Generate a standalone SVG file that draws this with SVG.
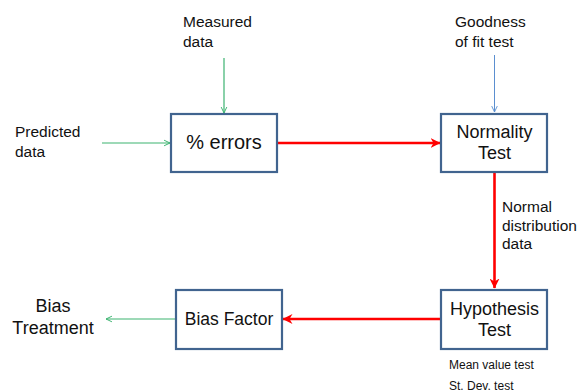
<svg xmlns="http://www.w3.org/2000/svg" width="587" height="392" viewBox="0 0 587 392">
<defs>
<style>
.box{fill:#fff;stroke:#41648F;stroke-width:2.2}
.t{font-family:"Liberation Sans",Arial,sans-serif;fill:#111}
.s{font-size:15.5px}
.m{font-size:18px}
.red{stroke:#FF0000;stroke-width:2.6;fill:none}
.grn{stroke:#3CB371;stroke-width:1.2;fill:none}
.blu{stroke:#5B8FD0;stroke-width:1;fill:none}
</style>
<marker id="ar" viewBox="0 0 10 10" refX="9.5" refY="5" markerWidth="10" markerHeight="10" markerUnits="userSpaceOnUse" orient="auto">
<path d="M0,0 L10,5 L0,10 L3,5 Z" fill="#FF0000"/>
</marker>
<marker id="ag" viewBox="0 0 10 10" refX="9.5" refY="5" markerWidth="7" markerHeight="8" markerUnits="userSpaceOnUse" orient="auto">
<path d="M1,1 L9.5,5 L1,9" fill="none" stroke="#3CB371" stroke-width="1.4"/>
</marker>
<marker id="ab" viewBox="0 0 10 10" refX="9.5" refY="5" markerWidth="7" markerHeight="8" markerUnits="userSpaceOnUse" orient="auto">
<path d="M1,1 L9.5,5 L1,9" fill="none" stroke="#5B8FD0" stroke-width="1.3"/>
</marker>
</defs>
<rect width="587" height="392" fill="#fff"/>
<g id="connectors">
<line class="grn" x1="102" y1="143" x2="170" y2="143" marker-end="url(#ag)"/>
<line class="grn" x1="224" y1="58" x2="224" y2="113" marker-end="url(#ag)"/>
<line class="blu" x1="494.5" y1="55" x2="494.5" y2="112" marker-end="url(#ab)"/>
<line class="red" x1="277" y1="143" x2="440" y2="143" marker-end="url(#ar)"/>
<line class="red" x1="494.5" y1="173" x2="494.5" y2="288" marker-end="url(#ar)"/>
<line class="red" x1="441" y1="319" x2="283" y2="319" marker-end="url(#ar)"/>
<line class="grn" x1="176" y1="319" x2="106" y2="319" marker-end="url(#ag)"/>
</g>
<g id="n-errors">
<rect class="box" x="171" y="114" width="106" height="58"/>
<text class="t" x="224" y="149" text-anchor="middle" font-size="20">% errors</text>
</g>
<g id="n-normality">
<rect class="box" x="441" y="114" width="106" height="58"/>
<text class="t m" x="494.5" y="138" text-anchor="middle">Normality</text>
<text class="t m" x="494.5" y="159" text-anchor="middle">Test</text>
</g>
<g id="n-hypothesis">
<rect class="box" x="441" y="290" width="106" height="59"/>
<text class="t m" x="494.5" y="315" text-anchor="middle">Hypothesis</text>
<text class="t m" x="494.5" y="336" text-anchor="middle">Test</text>
</g>
<g id="n-bias">
<rect class="box" x="176" y="290" width="106" height="59"/>
<text class="t" x="229" y="325" text-anchor="middle" font-size="17.5">Bias Factor</text>
</g>
<g id="labels">
<text class="t s" x="183" y="27">Measured</text>
<text class="t s" x="183" y="47">data</text>
<text class="t s" x="15" y="137">Predicted</text>
<text class="t s" x="15" y="157">data</text>
<text class="t s" x="455" y="27">Goodness</text>
<text class="t s" x="455" y="47">of fit test</text>
<text class="t s" x="502" y="212">Normal</text>
<text class="t s" x="502" y="231">distribution</text>
<text class="t s" x="502" y="249">data</text>
<text class="t m" x="53" y="312" text-anchor="middle">Bias</text>
<text class="t m" x="53" y="334" text-anchor="middle">Treatment</text>
<text class="t" x="449" y="369" font-size="12">Mean value test</text>
<text class="t" x="449" y="390" font-size="12">St. Dev. test</text>
</g>
</svg>
